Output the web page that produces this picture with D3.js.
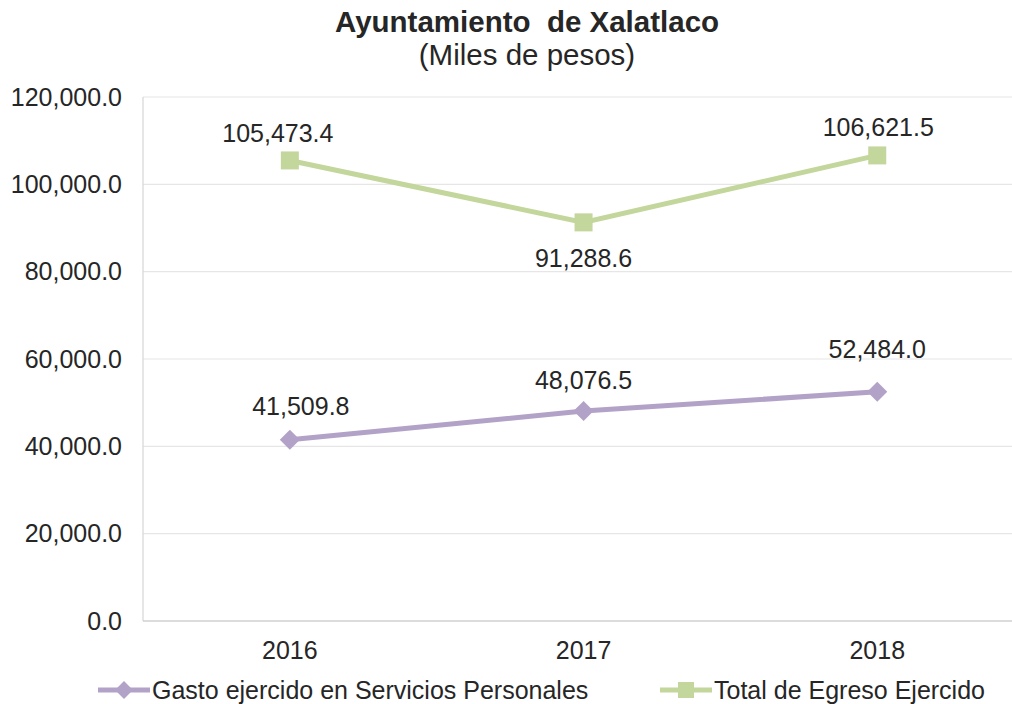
<!DOCTYPE html>
<html>
<head>
<meta charset="utf-8">
<script src="https://cdn.jsdelivr.net/npm/d3@7"></script>
<style>
  body { margin: 0; background: #fff; }
  text { font-family: "Liberation Sans", Arial, sans-serif; fill: #262626; }
</style>
</head>
<body>
<svg id="chart" width="1012" height="704"></svg>
<script>
// chart data
const years = ['2016', '2017', '2018'];
const gastoPersonal = [41509.8, 48076.5, 52484.0];
const totalEgreso = [105473.4, 91288.6, 106621.5];
const yTicks = [0, 20000, 40000, 60000, 80000, 100000, 120000];

const purple = '#b3a2c7';
const green = '#c3d69b';

const svg = d3.select('#chart');
const margin = { left: 143, top: 97, bottom: 621 };

const x = d3.scaleBand()
    .domain(years)
    .range([margin.left, margin.left + 3 * 293.7]);

const y = d3.scaleLinear()
    .domain([0, 120000])
    .range([margin.bottom, margin.top]);

const fmt = d3.format(',.1f');
const cx = d => x(d) + x.bandwidth() / 2;

// gridlines
svg.append('g')
    .selectAll('line')
    .data(yTicks.slice(1))
    .join('line')
    .attr('x1', margin.left)
    .attr('x2', 1012)
    .attr('y1', d => y(d))
    .attr('y2', d => y(d))
    .attr('stroke', '#e6e6e6')
    .attr('stroke-width', 1.2);

// y axis line and x axis line
svg.append('line')
    .attr('x1', margin.left).attr('x2', margin.left)
    .attr('y1', y(120000)).attr('y2', y(0))
    .attr('stroke', '#d9d9d9').attr('stroke-width', 1.3);
svg.append('line')
    .attr('x1', margin.left).attr('x2', 1012)
    .attr('y1', y(0)).attr('y2', y(0))
    .attr('stroke', '#d0d0d0').attr('stroke-width', 1.5);

// y tick labels
svg.append('g')
    .selectAll('text')
    .data(yTicks)
    .join('text')
    .attr('x', 122)
    .attr('y', d => y(d))
    .attr('dy', '0.35em')
    .attr('text-anchor', 'end')
    .attr('font-size', 25)
    .text(d => fmt(d));

// x labels
svg.append('g')
    .selectAll('text')
    .data(years)
    .join('text')
    .attr('x', d => cx(d))
    .attr('y', 650)
    .attr('dy', '0.35em')
    .attr('text-anchor', 'middle')
    .attr('font-size', 25)
    .text(d => d);

// title (keeps the double space of the original)
svg.append('text')
    .attr('x', 527).attr('y', 32)
    .attr('text-anchor', 'middle')
    .attr('font-size', 29.5)
    .attr('font-weight', 'bold')
    .attr('fill', '#000')
    .style('white-space', 'pre')
    .text('Ayuntamiento  de Xalatlaco');
svg.append('text')
    .attr('x', 527).attr('y', 65)
    .attr('text-anchor', 'middle')
    .attr('font-size', 29.5)
    .attr('fill', '#000')
    .text('(Miles de pesos)');

const line = d3.line()
    .x((d, i) => cx(years[i]))
    .y(d => y(d));

const series = [
    { name: 'Gasto ejercido en Servicios Personales', values: gastoPersonal, color: purple, diamond: true,
      labelDy: [-33, -31, -43], labelDx: [11, 0, 0] },
    { name: 'Total de Egreso Ejercido', values: totalEgreso, color: green, diamond: false,
      labelDy: [-27, 36, -28], labelDx: [-12, 0, 1] }
];

// diamond = square turned by 45 degrees
const marker = (s, size) => d3.symbol().type(d3.symbolSquare).size(s.diamond ? size * 0.62 : size);
const rot = s => (s.diamond ? ' rotate(45)' : '');

series.forEach(s => {
    svg.append('path')
        .datum(s.values)
        .attr('d', line)
        .attr('fill', 'none')
        .attr('stroke', s.color)
        .attr('stroke-width', 5);

    svg.append('g')
        .selectAll('path')
        .data(s.values)
        .join('path')
        .attr('transform', (d, i) => `translate(${cx(years[i])},${y(d)})${rot(s)}`)
        .attr('d', marker(s, 324))
        .attr('fill', s.color);

    svg.append('g')
        .selectAll('text')
        .data(s.values)
        .join('text')
        .attr('x', (d, i) => cx(years[i]) + s.labelDx[i])
        .attr('y', (d, i) => y(d) + s.labelDy[i])
        .attr('dy', '0.35em')
        .attr('text-anchor', 'middle')
        .attr('font-size', 25)
        .text(d => fmt(d));
});

// legend
const legend = svg.append('g');
const legendItems = [
    { s: series[0], x0: 98 },
    { s: series[1], x0: 660 }
];
legendItems.forEach(({ s, x0 }) => {
    const g = legend.append('g').attr('transform', `translate(${x0},690)`);
    g.append('line')
        .attr('x1', 0).attr('x2', 52)
        .attr('stroke', s.color).attr('stroke-width', 5);
    g.append('path')
        .attr('transform', `translate(26,0)${rot(s)}`)
        .attr('d', marker(s, 256))
        .attr('fill', s.color);
    g.append('text')
        .attr('x', 54)
        .attr('dy', '0.35em')
        .attr('font-size', 25)
        .text(s.name);
});
</script>
</body>
</html>
